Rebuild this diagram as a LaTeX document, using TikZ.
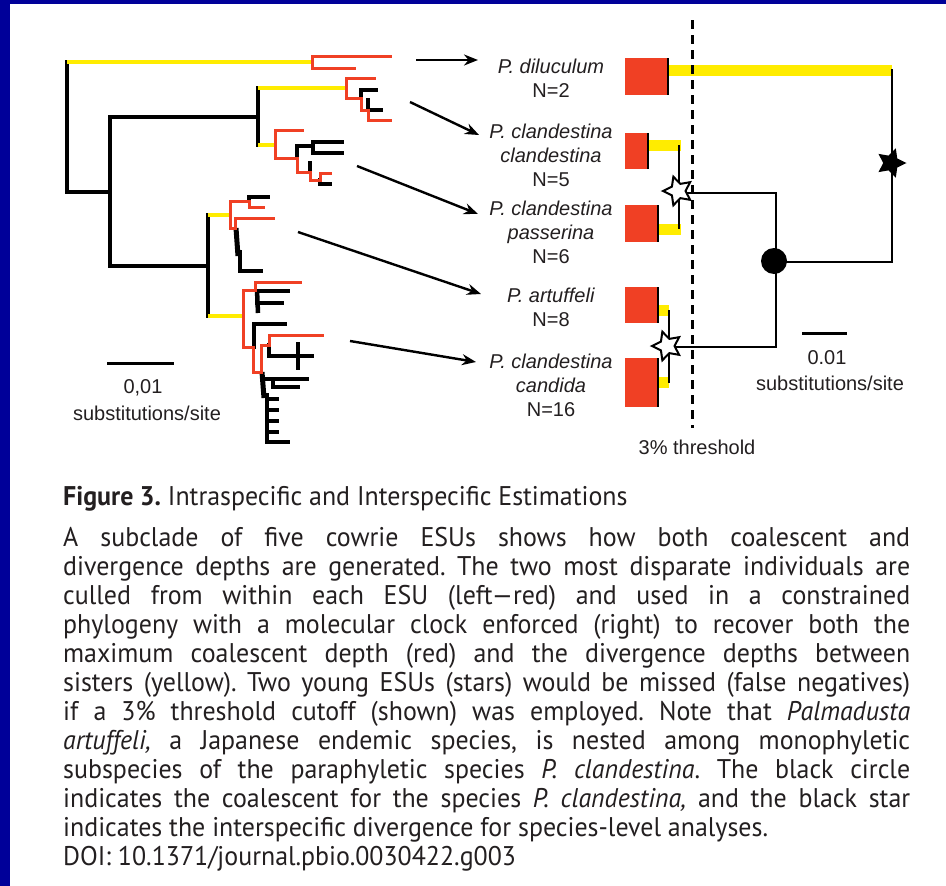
\documentclass[tikz,border=0pt]{standalone}
\usepackage{fontspec}
\setmainfont{Liberation Sans}
\newfontfamily\capfont[FakeStretch=0.96,Ligatures=TeX]{PT Sans}
\usetikzlibrary{shapes.geometric,arrows.meta}
\definecolor{frameblue}{RGB}{0,0,153}
\definecolor{treered}{RGB}{240,64,36}
\definecolor{treeyellow}{RGB}{255,236,0}
\definecolor{ink}{RGB}{35,31,32}
\newcommand{\jline}[1]{\makebox[847pt][s]{#1}}
\frenchspacing
\begin{document}
\begin{tikzpicture}[x=1pt,y=-1pt,
  blk/.style={draw=black,line width=3.2pt,line cap=rect,line join=miter},
  rd/.style={draw=treered,line width=3pt,line cap=rect,line join=miter},
  yl/.style={draw=treeyellow,line width=3.4pt},
  rt/.style={draw=black,line width=2.8pt,line join=miter},
  arr/.style={draw=black,line width=2.4pt,-{Stealth[length=14pt,width=11pt]}},
  lab/.style={font=\fontsize{20}{24}\selectfont,text=ink,align=center,inner sep=0pt},
  captext/.style={font=\capfont\fontsize{27}{29}\selectfont,text=ink,anchor=base west,inner sep=0pt},
  wstar/.style={star,star points=5,star point ratio=2.0,minimum size=30pt,inner sep=0pt,draw=black,fill=white,line width=2pt,rotate=90},
  bstar/.style={star,star points=5,star point ratio=2.0,minimum size=31pt,inner sep=0pt,fill=black,rotate=-90},
  esu/.style={fill=treered},
  bar/.style={fill=treeyellow}]
\useasboundingbox (0,0) rectangle (946,886);
\fill[white] (0,0) rectangle (946,886);
\fill[frameblue] (0,0) rectangle (946,4);
\fill[frameblue] (0,0) rectangle (10,886);

% ---------- left: individual-level tree ----------
% backbone
\draw[blk] (67,62) -- (67,192) -- (110,192);
\draw[blk] (110,117) -- (110,266);
\draw[blk] (110,117) -- (258,117);
\draw[blk] (258,88) -- (258,145);
\draw[blk] (110,266) -- (208,266);
\draw[blk] (208,215) -- (208,316);
% divergence branches
\draw[yl] (67,62) -- (312,62);
\draw[yl] (258,88) -- (346,88);
\draw[yl] (258,145) -- (275,145);
\draw[yl] (208,215) -- (230,215);
\draw[yl] (208,316) -- (243,316);
% P. diluculum
\draw[rd] (390,56) -- (312,56) -- (312,68) -- (354,68);
% P. c. clandestina
\draw[blk] (361,98) -- (361,90) -- (376,90);
\draw[blk] (368,100) -- (368,110) -- (381,110);
\draw[rd] (374,78) -- (346,78) -- (346,98) -- (361,98) -- (361,110) -- (368,110) -- (368,120) -- (390,120);
% P. c. passerina
\draw[blk] (297,158) -- (297,146) -- (313,146);
\draw[blk] (342,142) -- (313,142) -- (313,153) -- (342,153);
\draw[blk] (310,163) -- (310,172);
\draw[blk] (320,180) -- (320,184) -- (330,184);
\draw[rd] (302,130) -- (275,130) -- (275,158) -- (297,158) -- (297,172) -- (310,172) -- (310,180) -- (320,180) -- (320,173) -- (330,173);
% P. artuffeli
\draw[blk] (249,201) -- (249,197) -- (268,197);
\draw[black,line width=5pt] (236,228) -- (238,256);
\draw[blk] (240,252) -- (240,271) -- (261,271);
\draw[rd] (263,207) -- (249,207) -- (249,201) -- (230,201) -- (230,228) -- (235,228) -- (235,218) -- (273,218);
% P. c. candida
\draw[black,line width=4.5pt] (257,290) -- (258,313);
\draw[blk] (257,291) -- (288,291);
\draw[blk] (257,303) -- (282,303);
\draw[blk] (254,347) -- (254,324) -- (285,324);
\draw[blk] (269,345) -- (269,356) -- (312,356);
\draw[blk] (298,344) -- (298,368);
\draw[black,line width=5pt] (262,372) -- (264,398);
\draw[blk] (267,395) -- (267,442) -- (288,442);
\draw[blk] (262,379) -- (307,379);
\draw[blk] (273,379) -- (273,387) -- (298,387);
\foreach \ty in {399,410,421,432} \draw[blk] (267,\ty) -- (277,\ty);
\draw[rd] (300,282) -- (255,282) -- (255,290) -- (243,290) -- (243,347) -- (253,347) -- (253,372) -- (261,372) -- (261,345) -- (269,345) -- (269,335) -- (322,335);

% scale bar (left)
\draw[black,line width=3pt] (107,363) -- (174,363);
\node[lab] (sl1) at (143,388) {0,01};
\node[lab] (sl2) at (147,413) {substitutions/site};

% ---------- ESU labels ----------
\node[lab] (dil) at (551,78) {\textit{P. diluculum}\\N=2};
\node[lab] (cla) at (551,155) {\textit{P. clandestina}\\\textit{clandestina}\\N=5};
\node[lab] (pas) at (551,232) {\textit{P. clandestina}\\\textit{passerina}\\N=6};
\node[lab] (art) at (551,307) {\textit{P. artuffeli}\\N=8};
\node[lab] (can) at (551,385) {\textit{P. clandestina}\\\textit{candida}\\N=16};

% arrows from clades to labels
\coordinate (s1) at (416,60);  \coordinate (e1) at (478,60);
\coordinate (s2) at (410,102); \coordinate (e2) at (479,135);
\coordinate (s3) at (357,166); \coordinate (e3) at (478,214);
\coordinate (s4) at (298,232); \coordinate (e4) at (481,294);
\coordinate (s5) at (350,341); \coordinate (e5) at (476,362);
\draw[arr] (s1) -- (e1);
\draw[arr] (s2) -- (e2);
\draw[arr] (s3) -- (e3);
\draw[arr] (s4) -- (e4);
\draw[arr] (s5) -- (e5);

% ---------- right: clock tree ----------
% coalescent depths
\fill[esu] (625,58) rectangle (668,95);
\fill[esu] (625,133) rectangle (648,169);
\fill[esu] (625,205) rectangle (658,242);
\fill[esu] (625,287) rectangle (658,323);
\fill[esu] (625,358) rectangle (658,407);
\draw[black,line width=1.5pt] (668,58) -- (668,95);
\draw[black,line width=1.5pt] (648,133) -- (648,169);
\draw[black,line width=1.5pt] (658,205) -- (658,242);
\draw[black,line width=1.5pt] (658,287) -- (658,323);
\draw[black,line width=1.5pt] (658,358) -- (658,407);
% divergence depths
\fill[bar] (668.8,65) rectangle (892,76);
\fill[bar] (648.8,140) rectangle (681,151);
\fill[bar] (658.8,224) rectangle (681,235);
\fill[bar] (658.8,305) rectangle (669,316);
\fill[bar] (658.8,377) rectangle (669,388);
% branches
\coordinate (j1) at (776,193);
\coordinate (j2) at (776,347);
\coordinate (j3) at (892,262);
\draw[rt] (679,145) -- (679,229);
\draw[rt] (669,310) -- (669,383);
\draw[rt] (679,193) -- (j1) -- (j2) -- (669,347);
\draw[rt] (776,262) -- (j3) -- (892,68.5);
% threshold
\draw[black,line width=3pt,dash pattern=on 9pt off 6pt] (692,20) -- (692,428);
\node[lab] (thr) at (697,447) {3\% threshold};
% markers
\node[circle,fill=black,minimum size=26pt,inner sep=0pt] (coal) at (774,261) {};
\node[wstar] (ys1) at (678,191) {};
\node[wstar] (ys2) at (667,346) {};
\node[bstar] (sp) at (891,163) {};
% scale bar (right)
\draw[black,line width=3pt] (802,333) -- (847,333);
\node[lab] (sr1) at (827,358) {0.01};
\node[lab] (sr2) at (830,383) {substitutions/site};

% ---------- caption ----------
\node[captext] (c0) at (63,505) {\textbf{Figure 3.} Intraspecific and Interspecific Estimations};
\node[captext] (c1) at (63,546) {\jline{A subclade of five cowrie ESUs shows how both coalescent and}};
\node[captext] (c2) at (63,575) {\jline{divergence depths are generated. The two most disparate individuals are}};
\node[captext] (c3) at (63,604) {\jline{culled from within each ESU (left---red) and used in a constrained}};
\node[captext] (c4) at (63,633) {\jline{phylogeny with a molecular clock enforced (right) to recover both the}};
\node[captext] (c5) at (63,662) {\jline{maximum coalescent depth (red) and the divergence depths between}};
\node[captext] (c6) at (63,691) {\jline{sisters (yellow). Two young ESUs (stars) would be missed (false negatives)}};
\node[captext] (c7) at (63,720) {\jline{if a 3\% threshold cutoff (shown) was employed. Note that \textit{Palmadusta}}};
\node[captext] (c8) at (63,749) {\jline{\textit{artuffeli,} a Japanese endemic species, is nested among monophyletic}};
\node[captext] (c9) at (63,778) {\jline{subspecies of the paraphyletic species \textit{P. clandestina}. The black circle}};
\node[captext] (c10) at (63,807) {\jline{indicates the coalescent for the species \textit{P. clandestina,} and the black star}};
\node[captext] (c11) at (63,836) {indicates the interspecific divergence for species-level analyses.};
\node[captext] (c12) at (63,865) {DOI: 10.1371/journal.pbio.0030422.g003};
\end{tikzpicture}
\end{document}
